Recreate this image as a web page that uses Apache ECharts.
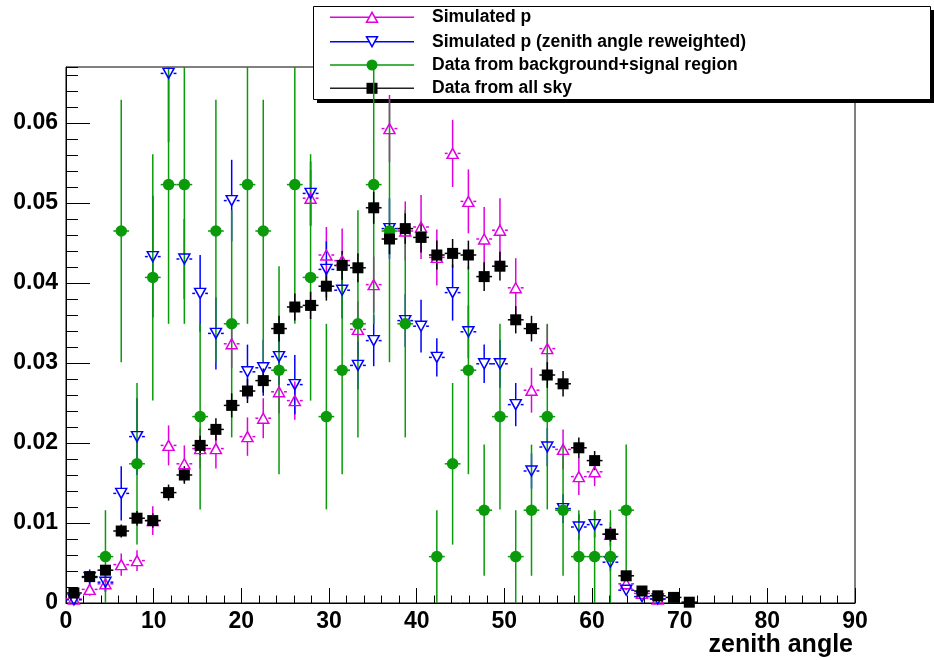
<!DOCTYPE html>
<html>
<head>
<meta charset="utf-8">
<script src="https://cdn.jsdelivr.net/npm/echarts@6/dist/echarts.min.js"></script>
<style>html,body{margin:0;padding:0;background:#fff;}#chart{width:934px;height:660px;}</style>
</head>
<body>
<div id="chart"></div>
<script>
// Bin centres (zenith angle, 1.8 degree bins)
const binCenters = [0.9,2.7,4.5,6.3,8.1,9.9,11.7,13.5,15.3,17.1,18.9,20.7,22.5,24.3,26.1,27.9,29.7,31.5,33.3,35.1,
  36.9,38.7,40.5,42.3,44.1,45.9,47.7,49.5,51.3,53.1,54.9,56.7,58.5,60.3,62.1,63.9,65.7,67.5,69.3,71.1];

// Simulated p
const simP = [0.0005,0.0017,0.0024,0.0048,0.0053,0.0103,0.0197,0.0174,0.0193,0.0193,0.0324,0.0208,0.0231,0.0264,0.0253,
  0.0506,0.0435,0.0428,0.0342,0.0398,0.0593,0.0465,0.0470,0.0432,0.0562,0.0502,0.0455,0.0466,0.0394,0.0266,
  0.0318,0.0192,0.0158,0.0164,0.0086,0.0024,0.0012,0.0005,null,null];
const simPErr = [0.0005,0.0008,0.0010,0.0014,0.0013,0.0018,0.0025,0.0023,0.0025,0.0025,0.0030,0.0024,0.0025,0.0027,0.0024,
  0.0035,0.0035,0.0040,0.0035,0.0035,0.0042,0.0037,0.0040,0.0035,0.0042,0.0040,0.0040,0.0040,0.0037,0.0028,
  0.0030,0.0025,0.0023,0.0018,0.0015,0.0008,0.0006,0.0004,null,null];

// Simulated p (zenith angle reweighted)
const simPRw = [0.0004,0.0032,0.0026,0.0137,0.0208,0.0433,0.0662,0.0430,0.0387,0.0337,0.0503,0.0289,0.0294,0.0308,0.0273,
  0.0512,0.0417,0.0391,0.0297,0.0328,0.0468,0.0353,0.0346,0.0307,0.0388,0.0339,0.0299,0.0299,0.0248,0.0165,
  0.0195,0.0118,0.0095,0.0098,0.0051,0.0016,0.0008,0.0005,null,null];
const simPRwErr = [0.0004,0.0010,0.0012,0.0034,0.0048,0.0076,0.0086,0.0050,0.0048,0.0045,0.0051,0.0034,0.0035,0.0035,0.0037,
  0.0040,0.0035,0.0035,0.0030,0.0032,0.0038,0.0033,0.0033,0.0024,0.0035,0.0033,0.0024,0.0030,0.0027,0.0022,
  0.0024,0.0018,0.0016,0.0016,0.0011,0.0006,0.0004,0.0003,null,null];

// Data from background+signal region
const bgSig = [null,null,0.0058,0.0465,0.0174,0.0407,0.0523,0.0523,0.0233,0.0465,0.0349,0.0523,0.0465,0.0291,0.0523,
  0.0407,0.0233,0.0291,0.0349,0.0523,0.0465,0.0349,null,0.0058,0.0174,0.0291,0.0116,0.0233,0.0058,0.0116,
  0.0233,0.0116,0.0058,0.0058,0.0058,0.0116,null,null,null,null];
const bgSigErr = [null,null,0.0058,0.0164,0.0101,0.0154,0.0174,0.0174,0.0116,0.0164,0.0142,0.0174,0.0164,0.0130,0.0174,
  0.0154,0.0116,0.0130,0.0142,0.0174,0.0164,0.0142,null,0.0058,0.0101,0.0130,0.0082,0.0116,0.0058,0.0082,
  0.0116,0.0082,0.0058,0.0058,0.0058,0.0082,null,null,null,null];

// Data from all sky
const allSky = [0.00125,0.0033,0.0041,0.0090,0.0106,0.0103,0.0138,0.0160,0.0197,0.0217,0.0247,0.0265,0.0278,0.0343,0.0370,
  0.0372,0.0396,0.0422,0.0419,0.0494,0.0455,0.0468,0.0457,0.0435,0.0437,0.0435,0.0408,0.0421,0.0354,0.0343,
  0.0285,0.0274,0.0194,0.0178,0.0086,0.0034,0.0015,0.0009,0.0007,0.0001];
const allSkyErr = [0.0004,0.0005,0.0006,0.0008,0.0009,0.0009,0.0010,0.0011,0.0012,0.0014,0.0015,0.0015,0.0015,0.0016,0.0017,
  0.0017,0.0018,0.0018,0.0018,0.0020,0.0019,0.0019,0.0019,0.0018,0.0018,0.0018,0.0018,0.0018,0.0017,0.0016,
  0.0016,0.0016,0.0013,0.0012,0.0009,0.0006,0.0004,0.0003,0.0003,0.0001];

const halfBin = 0.9;
const FONT = 'Liberation Sans';
const C_MAG = '#e000e0', C_BLUE = '#0000ff', C_GREEN = '#0a9a0a', C_BLACK = '#000000';

function pts(vals, errs) {
  const out = [];
  for (let i = 0; i < vals.length; i++) {
    if (vals[i] !== null) out.push([binCenters[i], vals[i], errs[i]]);
  }
  return out;
}

function errSeries(name, data, color, gap) {
  return {
    type: 'custom', name: name, data: data, clip: true, silent: true,
    renderItem: function (params, api) {
      const x = api.value(0), y = api.value(1), e = api.value(2);
      const c = api.coord([x, y]);
      const t = api.coord([x, y + e]);
      const b = api.coord([x, Math.max(0, y - e)]);
      const l = api.coord([x - halfBin, y]);
      const r = api.coord([x + halfBin, y]);
      const st = { stroke: color, lineWidth: 1.5 };
      const ch = [];
      if (c[1] - t[1] > gap) ch.push({ type: 'line', shape: { x1: c[0], y1: t[1], x2: c[0], y2: c[1] - gap }, style: st });
      if (b[1] - c[1] > gap) ch.push({ type: 'line', shape: { x1: c[0], y1: c[1] + gap, x2: c[0], y2: b[1] }, style: st });
      if (c[0] - l[0] > gap) ch.push({ type: 'line', shape: { x1: l[0], y1: c[1], x2: c[0] - gap, y2: c[1] }, style: st });
      if (r[0] - c[0] > gap) ch.push({ type: 'line', shape: { x1: c[0] + gap, y1: c[1], x2: r[0], y2: c[1] }, style: st });
      return { type: 'group', children: ch };
    }
  };
}

function markerSeries(name, data, symbol, size, rotate, fill, color) {
  return {
    type: 'scatter', name: name, data: data.map(d => [d[0], d[1]]), clip: true, silent: true,
    symbol: symbol, symbolSize: size, symbolRotate: rotate,
    itemStyle: { color: fill, borderColor: color, borderWidth: fill === 'rgba(0,0,0,0)' ? 1.5 : 0, opacity: 1 }
  };
}

const dMag = pts(simP, simPErr);
const dBlue = pts(simPRw, simPRwErr);
const dGreen = pts(bgSig, bgSigErr);
const dBlack = pts(allSky, allSkyErr);

const legendEntries = [
  { y: 17.3, text: 'Simulated p', color: C_MAG, marker: 'up' },
  { y: 41.7, text: 'Simulated p (zenith angle reweighted)', color: C_BLUE, marker: 'down' },
  { y: 65, text: 'Data from background+signal region', color: C_GREEN, marker: 'circle' },
  { y: 88.3, text: 'Data from all sky', color: '#222', marker: 'square' }
];

const legendChildren = [
  { type: 'rect', shape: { x: 317, y: 10, width: 617, height: 93 }, style: { fill: '#000' } },
  { type: 'rect', shape: { x: 313.5, y: 6.5, width: 617, height: 93 }, style: { fill: '#fff', stroke: '#000', lineWidth: 1 } }
];
legendEntries.forEach(en => {
  legendChildren.push({ type: 'line', shape: { x1: 330, y1: en.y, x2: 414, y2: en.y }, style: { stroke: en.color, lineWidth: 1.5 } });
  let m;
  if (en.marker === 'up') m = { type: 'polygon', shape: { points: [[366.5, en.y + 5], [377.5, en.y + 5], [372, en.y - 5]] }, style: { fill: '#fff', stroke: en.color, lineWidth: 1.5 } };
  else if (en.marker === 'down') m = { type: 'polygon', shape: { points: [[366.5, en.y - 5], [377.5, en.y - 5], [372, en.y + 5]] }, style: { fill: '#fff', stroke: en.color, lineWidth: 1.5 } };
  else if (en.marker === 'circle') m = { type: 'circle', shape: { cx: 372, cy: en.y, r: 5.5 }, style: { fill: en.color } };
  else m = { type: 'rect', shape: { x: 366.5, y: en.y - 5.5, width: 11, height: 11 }, style: { fill: '#000' } };
  legendChildren.push(m);
  legendChildren.push({ type: 'text', x: 432, y: en.y, style: { text: en.text, font: 'bold 17.5px "' + FONT + '"', fill: '#000', verticalAlign: 'middle', align: 'left' } });
});

const chart = echarts.init(document.getElementById('chart'), null, { renderer: 'canvas' });
chart.setOption({
  animation: false,
  backgroundColor: '#fff',
  grid: { left: 66, right: 79, top: 67, bottom: 57, show: true, borderColor: '#000', borderWidth: 1, backgroundColor: 'rgba(0,0,0,0)' },
  xAxis: {
    type: 'value', min: 0, max: 90, interval: 10,
    axisLine: { show: true, onZero: false, lineStyle: { color: '#000', width: 1 } },
    axisTick: { show: true, inside: true, length: 15, lineStyle: { color: '#000', width: 1 } },
    minorTick: { show: true, splitNumber: 5, length: 7.5, lineStyle: { color: '#000', width: 1 } },
    splitLine: { show: false },
    axisLabel: { show: true, margin: 7, color: '#000', fontFamily: FONT, fontWeight: 'bold', fontSize: 23 }
  },
  yAxis: [{
    type: 'value', min: 0, max: 0.067, interval: 0.01,
    axisLine: { show: true, onZero: false, lineStyle: { color: '#000', width: 1 } },
    axisTick: { show: true, inside: true, length: 24, lineStyle: { color: '#000', width: 1 } },
    splitLine: { show: false },
    axisLabel: { show: true, margin: 8, showMaxLabel: false, color: '#000', fontFamily: FONT, fontWeight: 'bold', fontSize: 23,
      formatter: v => (v === 0 ? '0' : v.toFixed(2)) }
  }, {
    type: 'value', min: 0, max: 0.067, interval: 0.002, position: 'left', offset: 0,
    axisLine: { show: false },
    axisTick: { show: true, inside: true, length: 12, lineStyle: { color: '#000', width: 1 } },
    splitLine: { show: false },
    axisLabel: { show: false }
  }],
  series: [
    errSeries('Simulated p err', dMag, C_MAG, 5),
    markerSeries('Simulated p', dMag, 'triangle', [11, 10], 0, 'rgba(0,0,0,0)', C_MAG),
    errSeries('Simulated p rw err', dBlue, C_BLUE, 5),
    markerSeries('Simulated p (zenith angle reweighted)', dBlue, 'triangle', [11, 10], 180, 'rgba(0,0,0,0)', C_BLUE),
    errSeries('bg err', dGreen, C_GREEN, 0),
    markerSeries('Data from background+signal region', dGreen, 'circle', 11.5, 0, C_GREEN, C_GREEN),
    errSeries('all err', dBlack, C_BLACK, 0),
    markerSeries('Data from all sky', dBlack, 'rect', 11, 0, C_BLACK, C_BLACK)
  ],
  graphic: [
    { type: 'group', z: 100, children: legendChildren },
    { type: 'text', z: 100, x: 853, y: 645, style: { text: 'zenith angle', font: 'bold 25px "' + FONT + '"', fill: '#000', align: 'right', verticalAlign: 'middle' } }
  ]
});
</script>
</body>
</html>
